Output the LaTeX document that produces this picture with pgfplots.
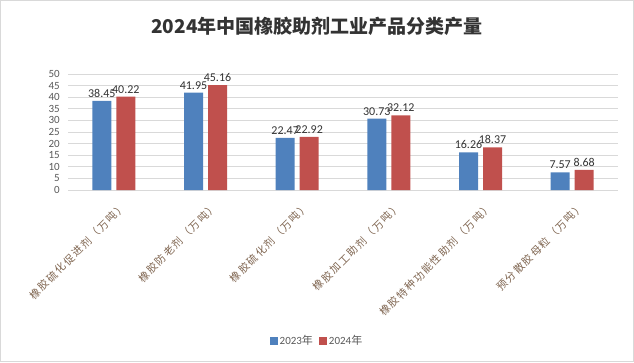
\documentclass[border=0pt]{standalone}
\usepackage{pgfplots}
\pgfplotsset{compat=1.18}
\usepackage{fontspec}
\setmainfont{Carlito}
\newfontfamily\cjk{Noto Sans CJK SC}
\newfontfamily\cjklab[LetterSpace=14]{Noto Sans CJK SC}
\definecolor{b23}{HTML}{4F81BD}
\definecolor{r24}{HTML}{C0504D}
\definecolor{tick}{HTML}{595959}
\definecolor{lab}{HTML}{7F6550}
\definecolor{gridc}{HTML}{D9D9D9}
\definecolor{titlec}{HTML}{333333}
\begin{document}
\begin{tikzpicture}[x=1pt,y=1pt]
\useasboundingbox (0,0) rectangle (634,362);
\draw[gridc,line width=1pt] (0.5,0.5) rectangle (633.5,361.5);
\node[font=\fontsize{19}{22}\selectfont\bfseries\cjk, text=titlec] at (317,336) {2024年中国橡胶助剂工业产品分类产量};
\begin{axis}[
  at={(68pt,172pt)}, anchor=south west,
  scale only axis, width=550pt, height=116pt,
  ybar=5pt, bar width=19pt,
  xmin=-0.5, xmax=5.5, ymin=0, ymax=50,
  xtick={0,...,5}, ytick={0,5,...,50},
  xticklabels={{橡胶硫化促进剂（万吨）},{橡胶防老剂（万吨）},{橡胶硫化剂（万吨）},{橡胶加工助剂（万吨）},{橡胶特种功能性助剂（万吨）},{预分散胶母粒（万吨）}},
  axis line style={draw=none},
  major tick length=0pt,
  ymajorgrids, grid style={gridc, line width=0.8pt},
  /pgf/number format/assume math mode=true,
  yticklabel style={font=\fontsize{11}{13}\selectfont, text=tick, inner sep=0pt, xshift=-8pt},
  xticklabel style={font=\fontsize{10.5}{12}\selectfont\cjklab, text=lab, inner sep=0pt, xshift=10pt, yshift=-15pt, rotate=45, anchor=east},
  nodes near coords,
  nodes near coords style={font=\fontsize{12}{14}\selectfont, text=black!80, /pgf/number format/fixed, /pgf/number format/precision=2, /pgf/number format/fixed zerofill, /pgf/number format/assume math mode=true},
  legend style={at={(0.4527,-1.30)}, anchor=center, draw=none, legend columns=2, font=\fontsize{11}{13}\selectfont, text=tick, /tikz/every even column/.append style={column sep=4pt}},
  legend image code/.code={\fill[#1] (0pt,-4pt) rectangle (8pt,4pt);},
]
\addplot[fill=b23, draw=none] coordinates {(0,38.45) (1,41.95) (2,22.47) (3,30.73) (4,16.26) (5,7.57)};
\addplot[fill=r24, draw=none] coordinates {(0,40.22) (1,45.16) (2,22.92) (3,32.12) (4,18.37) (5,8.68)};
\legend{2023{\cjk 年}, 2024{\cjk 年}}
\end{axis}
\end{tikzpicture}
\end{document}
